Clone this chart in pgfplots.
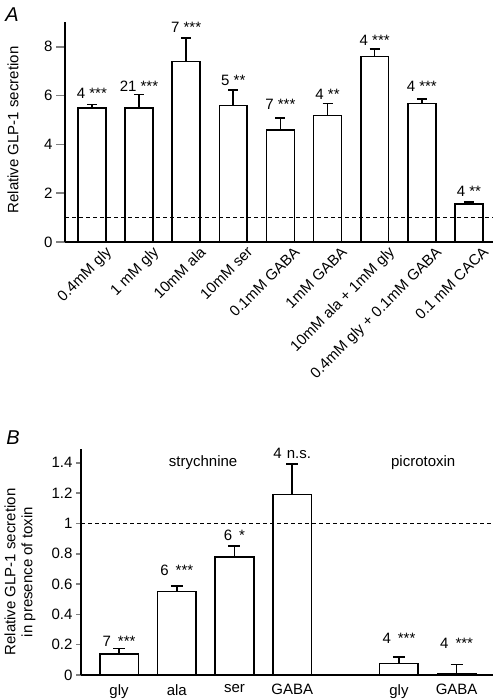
\documentclass[border=0pt]{standalone}
\usepackage{fontspec}
\setmainfont{Liberation Sans}
\usepackage{pgfplots}
\pgfplotsset{compat=1.18}
\begin{document}
\begin{tikzpicture}[font=\fontsize{15}{17}\selectfont]
\useasboundingbox (0pt,0pt) rectangle (497pt,700pt);
% ---------------- Panel A ----------------
\begin{axis}[
  at={(65pt,458pt)}, anchor=south west,
  width=428pt, height=219.6pt, scale only axis,
  xmin=0.43, xmax=9.51, ymin=0, ymax=9,
  axis x line*=bottom, axis y line*=left,
  axis line style={-, line width=1.6pt},
  ybar, bar width=0.59,
  ytick={0,2,4,6,8},
  xtick={1,2,3,4,5,6,7,8,9},
  xticklabels={0.4mM gly,1 mM gly,10mM ala,10mM ser,0.1mM GABA,1mM GABA,10mM ala + 1mM gly,0.4mM gly + 0.1mM GABA,0.1 mM CACA},
  xtick style={draw=none},
  ytick style={line width=1.6pt},
  tick align=outside, major tick length=9pt,
  xticklabel style={rotate=45, anchor=north east, inner sep=1pt, xshift=14pt, yshift=-4pt},
  /pgf/number format/assume math mode=true,
  clip=false,
]
\addplot[fill=white, draw=black, line width=1.6pt,
  error bars/.cd, y dir=plus, y explicit,
  error bar style={line width=1.6pt, black},
  error mark options={rotate=90, mark size=5pt, line width=1.6pt, black}]
coordinates {
  (1,5.50) +- (0,0.14)
  (2,5.50) +- (0,0.54)
  (3,7.39) +- (0,0.96)
  (4,5.59) +- (0,0.65)
  (5,4.58) +- (0,0.50)
  (6,5.19) +- (0,0.49)
  (7,7.60) +- (0,0.30)
  (8,5.68) +- (0,0.17)
  (9,1.55) +- (0,0.08)
};
\addplot[sharp plot, draw=black, line width=1.5pt, dash pattern=on 4pt off 3pt] coordinates {(0.43,1) (9.51,1)};
\node[anchor=base] at (axis cs:1,5.90) {4 ***};
\node[anchor=base] at (axis cs:2,6.15) {21 ***};
\node[anchor=base] at (axis cs:3,8.57) {7 ***};
\node[anchor=base] at (axis cs:4,6.43) {5 **};
\node[anchor=base] at (axis cs:5,5.41) {7 ***};
\node[anchor=base] at (axis cs:6,5.82) {4 **};
\node[anchor=base] at (axis cs:7,8.07) {4 ***};
\node[anchor=base] at (axis cs:8,6.16) {4 ***};
\node[anchor=base] at (axis cs:9,1.86) {4 **};
\end{axis}
\node[rotate=90] at (13pt,570pt) {Relative GLP-1 secretion};
\node at (12pt,685pt) {\fontsize{20}{21}\selectfont\itshape A};
% ---------------- Panel B ----------------
\begin{axis}[
  at={(81pt,25pt)}, anchor=south west,
  width=412pt, height=225.9pt, scale only axis,
  xmin=0.34, xmax=7.48, ymin=0, ymax=1.49,
  axis x line*=bottom, axis y line*=left,
  axis line style={-, line width=1.6pt},
  ybar, bar width=0.67,
  ytick={0,0.2,0.4,0.6,0.8,1,1.2,1.4},
  yticklabels={0,0.2,0.4,0.6,0.8,1,1.2,1.4},
  xtick={1,2,3,4,5.85,6.85},
  xticklabels={gly,ala,ser,GABA,gly,GABA},
  xtick style={draw=none},
  ytick style={line width=1.6pt},
  tick align=outside, major tick length=5pt,
  xticklabel style={anchor=north, inner sep=2pt, yshift=-2pt},
  /pgf/number format/assume math mode=true,
  clip=false,
]
\addplot[fill=white, draw=black, line width=1.6pt,
  error bars/.cd, y dir=plus, y explicit,
  error bar style={line width=1.6pt, black},
  error mark options={rotate=90, mark size=6pt, line width=1.6pt, black}]
coordinates {
  (1,0.139) +- (0,0.037)
  (2,0.550) +- (0,0.037)
  (3,0.780) +- (0,0.070)
  (4,1.190) +- (0,0.200)
  (5.85,0.077) +- (0,0.040)
  (6.85,0.007) +- (0,0.061)
};
\addplot[sharp plot, draw=black, line width=1.5pt, dash pattern=on 4pt off 3pt] coordinates {(0.34,1) (7.48,1)};
\node[anchor=base] at (axis cs:1,0.187) {7\hspace{7pt}***};
\node[anchor=base] at (axis cs:2,0.655) {6\hspace{7pt}***};
\node[anchor=base] at (axis cs:3,0.886) {6\hspace{7pt}*};
\node[anchor=base] at (axis cs:4,1.429) {4\hspace{5pt}n.s.};
\node[anchor=base] at (axis cs:5.85,0.209) {4\hspace{7pt}***};
\node[anchor=base] at (axis cs:6.85,0.176) {4\hspace{7pt}***};
\node[anchor=base] at (axis cs:2.456,1.372) {strychnine};
\node[anchor=base] at (axis cs:6.27,1.372) {picrotoxin};
\end{axis}
\node[rotate=90, align=center] at (20pt,128pt) {Relative GLP-1 secretion\\in presence of toxin};
\node at (13pt,262pt) {\fontsize{20}{21}\selectfont\itshape B};
\end{tikzpicture}
\end{document}
